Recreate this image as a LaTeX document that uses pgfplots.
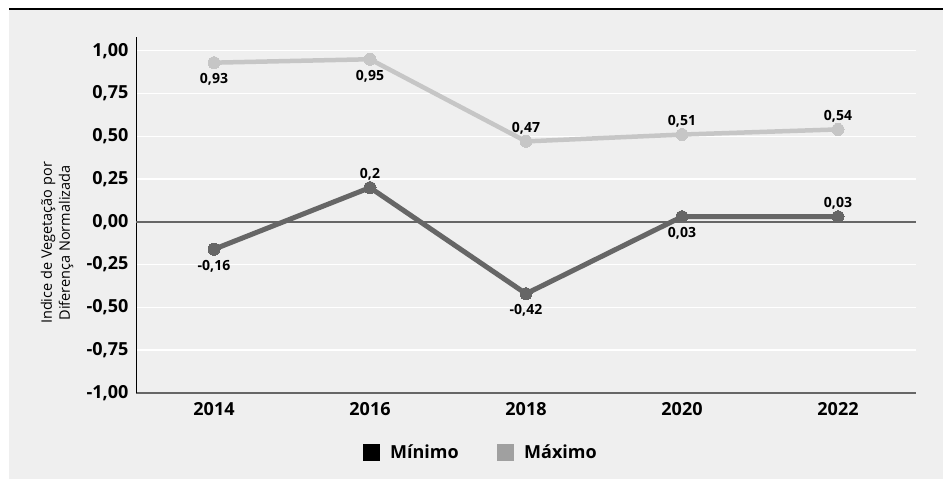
\documentclass[border=0pt]{standalone}
\usepackage{fontspec}
\setmainfont{Open Sans}
\usepackage{pgfplots}
\usepackage{pgfplotstable}
\pgfplotsset{compat=1.18}

\definecolor{panel}{HTML}{EFEFEF}
\definecolor{minline}{HTML}{666666}
\definecolor{maxline}{HTML}{C6C6C6}
\definecolor{maxkey}{HTML}{A0A0A0}

% NDVI extremes per year (x = 0..4 for 2014..2022), label text and label offset in bp
\pgfplotstableread{
x  y      lab    pos
0  0.93   0,93   -17
1  0.95   0,95   -17
2  0.47   0,47    13
3  0.51   0,51    13
4  0.54   0,54    13
}\maxtab
\pgfplotstableread{
x  y      lab    pos
0  -0.16  -0,16  -17
1  0.20   0,2     13
2  -0.42  -0,42  -17
3  0.03   0,03   -17
4  0.03   0,03    13
}\mintab

\begin{document}
\begin{tikzpicture}
\useasboundingbox (0,0) rectangle (943bp,479bp);
\fill[panel] (9bp,0) rectangle (943bp,469bp);
\draw[black, line width=2bp] (9bp,470bp) -- (943bp,470bp);

\node[rotate=90, align=center, font=\fontsize{14.5bp}{18bp}\selectfont]
  at (57bp,236bp) {Indice de Vegetação por\\Diferença Normalizada};

\begin{axis}[
  at={(136bp,86bp)}, anchor=south west,
  scale only axis, width=780bp, height=356bp,
  xmin=-0.5, xmax=4.5, ymin=-1, ymax=1.08,
  axis lines*=left,
  x axis line style={draw=minline, line width=2bp, -},
  y axis line style={draw=black, line width=0.9bp, -},
  xtick={0,1,2,3,4},
  xticklabels={2014,2016,2018,2020,2022},
  ytick={-1,-0.75,-0.5,-0.25,0,0.25,0.5,0.75,1},
  yticklabels={{-1,00},{-0,75},{-0,50},{-0,25},{0,00},{0,25},{0,50},{0,75},{1,00}},
  major tick length=0pt,
  ymajorgrids,
  grid style={draw=white, line width=1.5bp},
  tick label style={font=\fontsize{18bp}{21bp}\selectfont\bfseries},
  yticklabel style={xshift=-4bp},
  xticklabel style={yshift=-6bp},
  clip=false,
  legend columns=2,
  legend style={at={(0.442,-0.166)}, anchor=center, draw=none, fill=none,
    font=\fontsize{18bp}{22bp}\selectfont\bfseries,
    /tikz/every odd column/.append style={column sep=9bp},
    /tikz/every even column/.append style={column sep=36bp}},
  legend cell align=left,
  nodes near coords,
  point meta=explicit symbolic,
  visualization depends on={\thisrow{pos} \as \pos},
  every node near coord/.append style={anchor=center, yshift=\pos*1bp,
    font=\fontsize{14bp}{17bp}\selectfont\bfseries, text=black},
]
\draw[minline, line width=2bp] (axis cs:-0.5,0) -- (axis cs:4.5,0);

\addplot[maxline, line width=4.5bp, mark=*, mark size=6bp,
  mark options={fill=maxline, draw=maxline, line width=0pt}, forget plot]
  table[x=x, y=y, meta=lab] {\maxtab};
\addplot[minline, line width=5bp, mark=*, mark size=6bp,
  mark options={fill=minline, draw=minline, line width=0pt}, forget plot]
  table[x=x, y=y, meta=lab] {\mintab};

\addlegendimage{legend image code/.code={\fill[black] (0bp,-8bp) rectangle (16bp,8bp);}}
\addlegendentry{Mínimo}
\addlegendimage{legend image code/.code={\fill[maxkey] (0bp,-8bp) rectangle (16bp,8bp);}}
\addlegendentry{Máximo}
\end{axis}
\end{tikzpicture}
\end{document}
